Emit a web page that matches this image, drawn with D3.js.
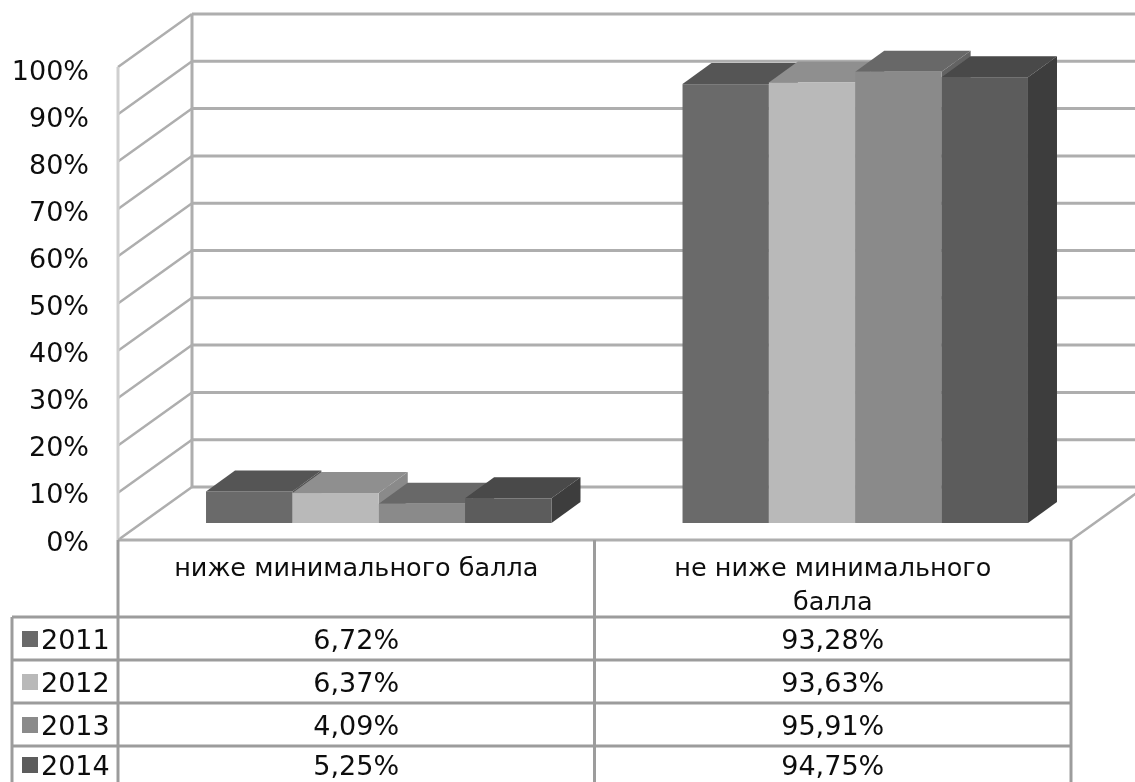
<!DOCTYPE html>
<html>
<head>
<meta charset="utf-8">
<script src="https://cdn.jsdelivr.net/npm/d3@7"></script>
<style>
html, body { margin: 0; padding: 0; background: #fff; }
svg { display: block; }
text { font-family: "DejaVu Sans", sans-serif; fill: #111; }
</style>
</head>
<body>
<svg id="mysvg" width="1135" height="782"></svg>
<script>
let categories = ["ниже минимального балла", "не ниже минимального балла"];
let categoryLines = [["ниже минимального балла"], ["не ниже минимального", "балла"]];
let years = ["2011", "2012", "2013", "2014"];
let values2011 = [6.72, 93.28];
let values2012 = [6.37, 93.63];
let values2013 = [4.09, 95.91];
let values2014 = [5.25, 94.75];
let valueLabels2011 = ["6,72%", "93,28%"];
let valueLabels2012 = ["6,37%", "93,63%"];
let valueLabels2013 = ["4,09%", "95,91%"];
let valueLabels2014 = ["5,25%", "94,75%"];
let yTicks = [0, 10, 20, 30, 40, 50, 60, 70, 80, 90, 100];

let seriesValues = [values2011, values2012, values2013, values2014];
let seriesLabels = [valueLabels2011, valueLabels2012, valueLabels2013, valueLabels2014];

let frontColors = ["#6b6b6b", "#b9b9b9", "#8a8a8a", "#5c5c5c"];
let topColors = ["#555555", "#8f8f8f", "#686868", "#484848"];
let sideColors = ["#505050", "#8a8a8a", "#636363", "#3d3d3d"];
let gridColor = "#aeaeae";
let tableColor = "#9c9c9c";

// front of the box and how far the back wall is pushed
let left = 118, right = 1071, floorY = 540, topY = 67;
let depthX = 74, depthY = 53;
let barDepthX = 29, barDepthY = 21;
let barFloorY = 523;

let svg = d3.select("#mysvg");
let defs = svg.append("defs");
defs.append("filter").attr("id", "soft")
    .attr("x", "-5%").attr("y", "-5%").attr("width", "110%").attr("height", "110%")
    .append("feGaussianBlur").attr("stdDeviation", 0.7);
let root = svg.append("g").attr("filter", "url(#soft)");

let y = d3.scaleLinear().domain([0, 100]).range([floorY, topY]);
let yLabel = d3.scaleLinear().domain([0, 100]).range([541.4, 70.4]);
let yBar = d3.scaleLinear().domain([0, 100]).range([barFloorY, barFloorY - 470.5]);

// columns of the table
let xTable = d3.scaleBand().domain(categories).range([left, right]);
// bars stand in the middle of the floor, so shifted right from the columns
let xGroup = d3.scaleBand().domain(categories)
    .range([left + 22.5, right + 22.5])
    .paddingInner(0.275).paddingOuter(0.1375);
let xBar = d3.scaleBand().domain(years).range([0, xGroup.bandwidth()]);

drawWalls();
drawBars();
drawAxis();
drawTable();


function line(g, x1, y1, x2, y2, color, width)
{
    g.append("line")
        .attr("x1", x1).attr("y1", y1)
        .attr("x2", x2).attr("y2", y2)
        .attr("stroke", color)
        .attr("stroke-width", width);
}


function label(g, x, yPos, str, size, anchor)
{
    g.append("text")
        .attr("x", x).attr("y", yPos)
        .attr("font-size", size)
        .attr("text-anchor", anchor)
        .text(str);
}


function drawWalls()
{
    let g = root.append("g").attr("class", "walls");
    yTicks.forEach(function(d) {
        line(g, left, y(d), left + depthX, y(d) - depthY, gridColor, 2.5);
        line(g, left + depthX, y(d) - depthY, 1135, y(d) - depthY, gridColor, 3);
    });
    line(g, left, y(100), left, y(0), "#cfcfcf", 3);
    line(g, left + depthX, y(100) - depthY, left + depthX, y(0) - depthY, gridColor, 3);
    line(g, right, y(0), right + depthX, y(0) - depthY, gridColor, 2.5);
}


function drawBars()
{
    let bars = [];
    categories.forEach(function(c, ic) {
        years.forEach(function(year, iy) {
            bars.push({category:c, year:year, index:iy, value:seriesValues[iy][ic]});
        });
    });

    let elemEnter = root.selectAll("g.bar")
        .data(bars)
        .enter()
        .append("g")
        .attr("class", "bar");

    elemEnter.append("path")
        .attr("fill", function(d){return topColors[d.index]})
        .attr("d", function(d){
            let x0 = xGroup(d.category) + xBar(d.year), x1 = x0 + xBar.bandwidth(), t = yBar(d.value);
            return "M" + x0 + "," + t + "L" + (x0 + barDepthX) + "," + (t - barDepthY)
                + "L" + (x1 + barDepthX) + "," + (t - barDepthY) + "L" + x1 + "," + t + "Z";
        });

    elemEnter.append("path")
        .attr("fill", function(d){return sideColors[d.index]})
        .attr("d", function(d){
            let x1 = xGroup(d.category) + xBar(d.year) + xBar.bandwidth(), t = yBar(d.value);
            return "M" + x1 + "," + t + "L" + (x1 + barDepthX) + "," + (t - barDepthY)
                + "L" + (x1 + barDepthX) + "," + (barFloorY - barDepthY) + "L" + x1 + "," + barFloorY + "Z";
        });

    elemEnter.append("rect")
        .attr("x", function(d){return xGroup(d.category) + xBar(d.year)})
        .attr("y", function(d){return yBar(d.value)})
        .attr("width", xBar.bandwidth())
        .attr("height", function(d){return barFloorY - yBar(d.value)})
        .attr("fill", function(d){return frontColors[d.index]});
}


function drawAxis()
{
    let axis = d3.axisLeft(yLabel)
        .tickValues(yTicks)
        .tickFormat(function(d){return d + "%"})
        .tickSize(0)
        .tickPadding(0);

    let g = root.append("g")
        .attr("class", "y-axis")
        .attr("transform", "translate(89,0)")
        .call(axis);
    g.select(".domain").remove();
    g.selectAll("text")
        .style("font-size", "27px")
        .style("font-family", "'DejaVu Sans', sans-serif")
        .attr("fill", "#111");
}


function drawTable()
{
    let g = root.append("g").attr("class", "table");
    let rowLines = [617, 660, 703, 746];
    // last row sits a little high so its text box stays inside the window
    let rowBase = [649, 692, 735, 775];

    line(g, left, floorY, right, floorY, gridColor, 3);
    rowLines.forEach(function(r) { line(g, 12, r, right, r, tableColor, 3); });
    line(g, left, floorY, left, 782, tableColor, 3);
    line(g, left + xTable.bandwidth(), floorY, left + xTable.bandwidth(), 782, tableColor, 3);
    line(g, right, floorY, right, 782, tableColor, 3);
    line(g, 12, rowLines[0], 12, 782, tableColor, 3);

    categories.forEach(function(c, ic) {
        let cx = xTable(c) + xTable.bandwidth() / 2;
        categoryLines[ic].forEach(function(str, il) {
            label(g, cx, 576 + il * 34, str, 25.5, "middle");
        });
        seriesLabels.forEach(function(labels, is) {
            label(g, cx, rowBase[is], labels[ic], 27, "middle");
        });
    });

    years.forEach(function(year, is) {
        g.append("rect")
            .attr("x", 22).attr("y", rowBase[is] - 18)
            .attr("width", 16).attr("height", 16)
            .attr("fill", frontColors[is]);
        label(g, 41, rowBase[is], year, 27, "start");
    });
}
</script>
</body>
</html>
